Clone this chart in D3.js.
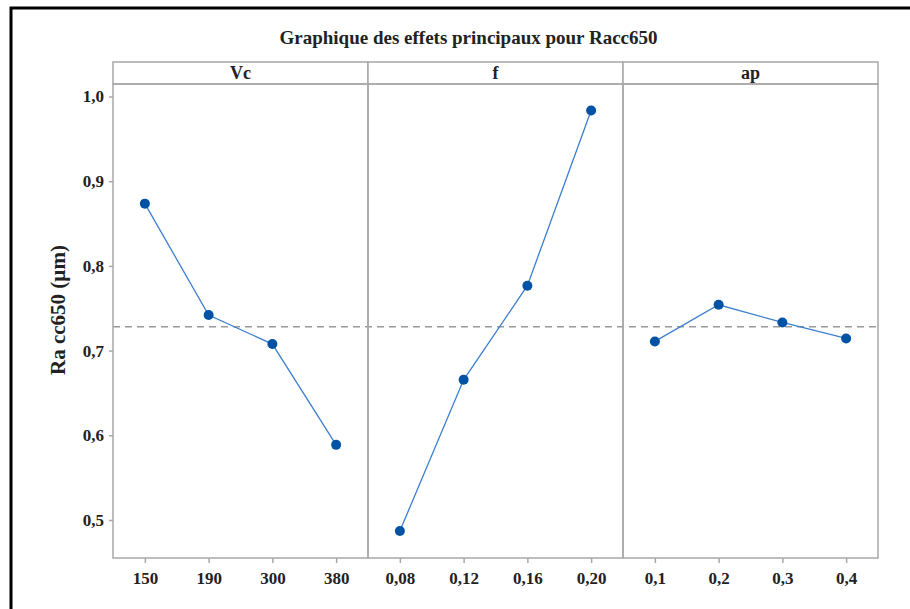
<!DOCTYPE html>
<html>
<head>
<meta charset="utf-8">
<script src="https://cdn.jsdelivr.net/npm/d3@7"></script>
<style>
  body { margin: 0; background: #fff; }
  text { font-family: "Liberation Serif", "Times New Roman", serif; font-weight: bold; fill: #222; }
</style>
</head>
<body>
<svg width="910" height="609"></svg>
<script>
// factor names and levels
var factors = ["Vc", "f", "ap"]
var vcLevels = ["150", "190", "300", "380"]
var fLevels = ["0,08", "0,12", "0,16", "0,20"]
var apLevels = ["0,1", "0,2", "0,3", "0,4"]

// mean Ra for each level
var vcMeans = [0.8735, 0.742, 0.7077, 0.5887]
var fMeans = [0.487, 0.6655, 0.7766, 0.9835]
var apMeans = [0.7108, 0.7541, 0.7332, 0.7143]
var grandMean = 0.728

var yTicks = [0.5, 0.6, 0.7, 0.8, 0.9, 1.0]

var panels = [
    {name: factors[0], levels: vcLevels, means: vcMeans},
    {name: factors[1], levels: fLevels, means: fMeans},
    {name: factors[2], levels: apLevels, means: apMeans}
]

var svg = d3.select("svg")
var plotLeft = 113, plotRight = 878, stripTop = 62, plotTop = 84, plotBottom = 558

// frame round the whole picture
svg.append("rect")
    .attr("x", 11).attr("y", 8)
    .attr("width", 920).attr("height", 620)
    .attr("fill", "none").attr("stroke", "#000").attr("stroke-width", 3)

svg.append("text")
    .attr("x", (plotLeft + plotRight) / 2 - 27).attr("y", 44)
    .attr("text-anchor", "middle")
    .style("font-size", "19px")
    .text("Graphique des effets principaux pour Racc650")

var y = d3.scaleLinear()
    .domain([0.5 - (plotBottom - 520) / 846, 1.0 + (96.5 - plotTop) / 846])
    .range([plotBottom, plotTop])

var panelX = d3.scaleBand()
    .domain(factors)
    .range([plotLeft, plotRight])

var grey = "#a8a8a8"

// mean line
svg.append("line")
    .attr("x1", plotLeft).attr("x2", plotRight)
    .attr("y1", y(grandMean)).attr("y2", y(grandMean))
    .attr("stroke", "#9a9a9a").attr("stroke-width", 1.5)
    .attr("stroke-dasharray", "7,5")

panels.forEach(function (p) {
    var x0 = panelX(p.name)
    var w = panelX.bandwidth()
    var x = d3.scalePoint()
        .domain(p.levels)
        .range([x0, x0 + w])
        .padding(0.5)

    var g = svg.append("g")

    // strip
    g.append("rect")
        .attr("x", x0).attr("y", stripTop)
        .attr("width", w).attr("height", plotTop - stripTop)
        .attr("fill", "#fff").attr("stroke", grey).attr("stroke-width", 1.5)
    g.append("text")
        .attr("x", x0 + w / 2).attr("y", plotTop - 5)
        .attr("text-anchor", "middle")
        .style("font-size", "18px")
        .text(p.name)

    g.append("rect")
        .attr("x", x0).attr("y", plotTop)
        .attr("width", w).attr("height", plotBottom - plotTop)
        .attr("fill", "none").attr("stroke", grey).attr("stroke-width", 1.5)

    var xAxis = g.append("g")
        .attr("transform", "translate(0," + plotBottom + ")")
        .call(d3.axisBottom(x).tickSize(5).tickPadding(9))
    xAxis.select(".domain").remove()
    xAxis.selectAll("line").attr("stroke", grey).attr("stroke-width", 1.5)
    xAxis.selectAll("text")
        .style("font-size", "17px")
        .style("font-family", "Liberation Serif")
        .style("font-weight", "bold")
        .attr("fill", "#222")

    var pts = p.levels.map(function (l, i) { return [x(l), y(p.means[i])] })

    g.append("path")
        .attr("d", d3.line()(pts))
        .attr("fill", "none")
        .attr("stroke", "#3c7fcf").attr("stroke-width", 1.3)

    g.selectAll("circle")
        .data(pts)
        .enter().append("circle")
        .attr("cx", function (d) { return d[0] })
        .attr("cy", function (d) { return d[1] })
        .attr("r", 5)
        .attr("fill", "#0052a5")
})

var yAxis = svg.append("g")
    .attr("transform", "translate(" + plotLeft + ",0)")
    .call(d3.axisLeft(y).tickValues(yTicks).tickSize(4).tickPadding(5)
        .tickFormat(function (d) { return d3.format(".1f")(d).replace(".", ",") }))
yAxis.select(".domain").remove()
yAxis.selectAll("line").attr("stroke", grey).attr("stroke-width", 1.5)
yAxis.selectAll("text")
    .style("font-size", "17px")
    .style("font-family", "Liberation Serif")
    .style("font-weight", "bold")
    .attr("fill", "#222")

svg.append("text")
    .attr("transform", "translate(65," + ((plotTop + plotBottom) / 2 - 11) + ") rotate(-90)")
    .attr("text-anchor", "middle")
    .style("font-size", "21px")
    .text("Ra cc650 (µm)")
</script>
</body>
</html>
